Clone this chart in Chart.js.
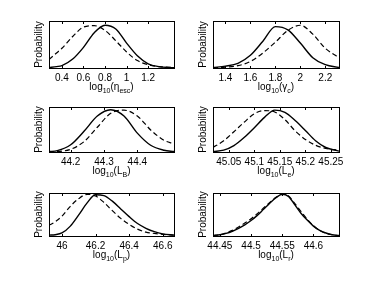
<!DOCTYPE html>
<html>
<head>
<meta charset="utf-8">
<script src="https://cdn.jsdelivr.net/npm/chart.js@4.4.1/dist/chart.umd.min.js"></script>
<style>
body{margin:0;background:#fff;width:374px;height:281px;position:relative;overflow:hidden;font-family:"Liberation Sans",Arial,sans-serif}
canvas.pane{position:absolute}
.xlab{position:absolute;width:130px;text-align:center;font-size:10px;line-height:12px;color:#000;white-space:nowrap}
.xlab sub{font-size:7px;vertical-align:-3px;line-height:0}
</style>
</head>
<body>
<script>
// curves, y = fraction of the box height
const etaX     = [0.28, 0.35, 0.4, 0.5, 0.6, 0.7, 0.8, 0.9, 1.0, 1.1, 1.2, 1.3, 1.44];
const etaSolid = [0.01, 0.03, 0.05, 0.19, 0.44, 0.75, 0.91, 0.83, 0.53, 0.26, 0.09, 0.03, 0.005];
const etaDash  = [0.18, 0.32, 0.42, 0.67, 0.87, 0.90, 0.80, 0.58, 0.34, 0.16, 0.07, 0.03, 0.01];
const etaTicks = [0.4, 0.6, 0.8, 1, 1.2];

const gamX     = [1.3, 1.4, 1.5, 1.6, 1.7, 1.8, 1.9, 2.0, 2.1, 2.2, 2.31];
const gamSolid = [0.01, 0.04, 0.10, 0.27, 0.57, 0.88, 0.81, 0.53, 0.22, 0.07, 0.01];
const gamDash  = [0.0, 0.02, 0.05, 0.14, 0.32, 0.55, 0.80, 0.91, 0.72, 0.42, 0.22];
const gamTicks = [1.4, 1.6, 1.8, 2, 2.2];

const lbX      = [44.135, 44.16, 44.2, 44.24, 44.28, 44.32, 44.36, 44.4, 44.44, 44.48, 44.51];
const lbSolid  = [0.01, 0.03, 0.16, 0.46, 0.80, 0.94, 0.80, 0.42, 0.15, 0.04, 0.01];
const lbDash   = [0.0, 0.01, 0.06, 0.23, 0.55, 0.86, 0.93, 0.80, 0.49, 0.26, 0.18];
const lbTicks  = [44.2, 44.3, 44.4];

const leX      = [45.019, 45.04, 45.06, 45.08, 45.1, 45.12, 45.14, 45.16, 45.18, 45.2, 45.22, 45.24, 45.266];
const leSolid  = [0.01, 0.04, 0.14, 0.32, 0.54, 0.77, 0.93, 0.88, 0.70, 0.48, 0.25, 0.10, 0.02];
const leDash   = [0.10, 0.25, 0.45, 0.66, 0.85, 0.92, 0.89, 0.72, 0.47, 0.28, 0.15, 0.08, 0.04];
const leTicks  = [45.05, 45.1, 45.15, 45.2, 45.25];

const lpX      = [45.923, 45.96, 46.0, 46.05, 46.1, 46.15, 46.2, 46.25, 46.3, 46.35, 46.4, 46.45, 46.5, 46.55, 46.6, 46.667];
const lpSolid  = [0.02, 0.03, 0.07, 0.23, 0.49, 0.77, 0.96, 0.94, 0.81, 0.63, 0.45, 0.29, 0.18, 0.10, 0.05, 0.02];
const lpDash   = [0.25, 0.33, 0.46, 0.69, 0.87, 0.97, 0.93, 0.78, 0.59, 0.41, 0.27, 0.16, 0.09, 0.06, 0.04, 0.02];
const lpTicks  = [46, 46.2, 46.4, 46.6];

const lrX      = [44.439, 44.45, 44.46, 44.47, 44.48, 44.49, 44.5, 44.51, 44.52, 44.53, 44.54, 44.55, 44.56, 44.57, 44.58, 44.59, 44.6, 44.61, 44.62, 44.63, 44.641];
const lrSolid  = [0.01, 0.03, 0.06, 0.11, 0.18, 0.26, 0.36, 0.48, 0.62, 0.76, 0.89, 0.97, 0.92, 0.73, 0.53, 0.37, 0.23, 0.13, 0.07, 0.03, 0.01];
const lrDash   = [0.01, 0.03, 0.07, 0.13, 0.21, 0.30, 0.40, 0.52, 0.65, 0.78, 0.90, 0.97, 0.93, 0.76, 0.57, 0.39, 0.24, 0.13, 0.06, 0.03, 0.01];
const lrTicks  = [44.45, 44.5, 44.55, 44.6];

Chart.defaults.font.family = '"Liberation Sans", Arial, sans-serif';
Chart.defaults.color = '#000';

const panels = [
  {box:[49,21,174,68],   x:etaX, solid:etaSolid, dash:etaDash, ticks:etaTicks, min:0.28,   max:1.44,   label:'log<sub>10</sub>(η<sub>esc</sub>)'},
  {box:[213,21,339,68],  x:gamX, solid:gamSolid, dash:gamDash, ticks:gamTicks, min:1.3,    max:2.31,   label:'log<sub>10</sub>(γ<sub>c</sub>)'},
  {box:[49,107,174,152], x:lbX,  solid:lbSolid,  dash:lbDash,  ticks:lbTicks,  min:44.135, max:44.51,  label:'log<sub>10</sub>(L<sub>B</sub>)'},
  {box:[213,107,339,152],x:leX,  solid:leSolid,  dash:leDash,  ticks:leTicks,  min:45.019, max:45.266, label:'log<sub>10</sub>(L<sub>e</sub>)'},
  {box:[49,193,174,236], x:lpX,  solid:lpSolid,  dash:lpDash,  ticks:lpTicks,  min:45.923, max:46.667, label:'log<sub>10</sub>(L<sub>p</sub>)'},
  {box:[213,193,339,236],x:lrX,  solid:lrSolid,  dash:lrDash,  ticks:lrTicks,  min:44.439, max:44.641, label:'log<sub>10</sub>(L<sub>r</sub>)'}
];

// box round the plot + inward tick marks, matlab style
const boxPlugin = {
  id: 'box',
  afterDraw(chart){
    const a = chart.chartArea, ctx = chart.ctx, sx = chart.scales.x;
    ctx.save();
    ctx.strokeStyle = '#000';
    ctx.lineWidth = 1;
    const l = Math.round(a.left), t = Math.round(a.top), r = Math.round(a.right), b = Math.round(a.bottom);
    ctx.strokeRect(l+0.5, t+0.5, r-l, b-t);
    ctx.beginPath();
    sx.ticks.forEach(tk=>{
      const px = Math.round(sx.getPixelForValue(tk.value))+0.5;
      ctx.moveTo(px, b); ctx.lineTo(px, b-2);
      ctx.moveTo(px, t+1); ctx.lineTo(px, t+3);
    });
    ctx.stroke();
    ctx.restore();
  }
};

function makePanel(p){
  const [L,T,R,B] = p.box;
  const cv = document.createElement('canvas');
  const w = R-L+30, h = B-T+18;
  cv.width = w; cv.height = h;
  cv.className = 'pane';
  cv.style.left = (L-20)+'px'; cv.style.top = (T-2)+'px';
  cv.style.width = w+'px'; cv.style.height = h+'px';
  document.body.appendChild(cv);

  const lab = document.createElement('div');
  lab.className = 'xlab';
  lab.innerHTML = p.label;
  lab.style.left = ((L+R)/2-65)+'px';
  lab.style.top = (B+13)+'px';
  document.body.appendChild(lab);

  new Chart(cv, {
    type: 'line',
    data: { datasets: [
      { data: p.x.map((v,i)=>({x:v, y:p.solid[i]})), borderColor:'#000', borderWidth:1.4, pointRadius:0, cubicInterpolationMode:'monotone' },
      { data: p.x.map((v,i)=>({x:v, y:p.dash[i]})), borderColor:'#000', borderWidth:1.2, borderDash:[5,3], pointRadius:0, cubicInterpolationMode:'monotone' }
    ]},
    options: {
      responsive:false, animation:false,
      layout:{ padding:{left:0, top:2, right:10, bottom:0} },
      plugins:{ legend:{display:false}, tooltip:{enabled:false} },
      scales:{
        x:{ type:'linear', min:p.min, max:p.max,
            grid:{display:false, drawTicks:false}, border:{display:false},
            ticks:{ font:{size:10}, padding:4, maxRotation:0, autoSkip:false,
                    callback:v=>String(+Number(v).toFixed(3)) },
            afterBuildTicks:s=>{ s.ticks = p.ticks.map(v=>({value:v})); },
            afterFit:s=>{ s.height = 16; s.paddingLeft = 0; s.paddingRight = 0; } },
        y:{ min:0, max:1,
            grid:{display:false, drawTicks:false}, border:{display:false},
            ticks:{display:false},
            title:{display:true, text:'Probability', font:{size:10}, padding:{top:4, bottom:0}},
            afterFit:s=>{ s.width = 20; } }
      }
    },
    plugins:[boxPlugin]
  });
}

panels.forEach(makePanel);
</script>
</body>
</html>
